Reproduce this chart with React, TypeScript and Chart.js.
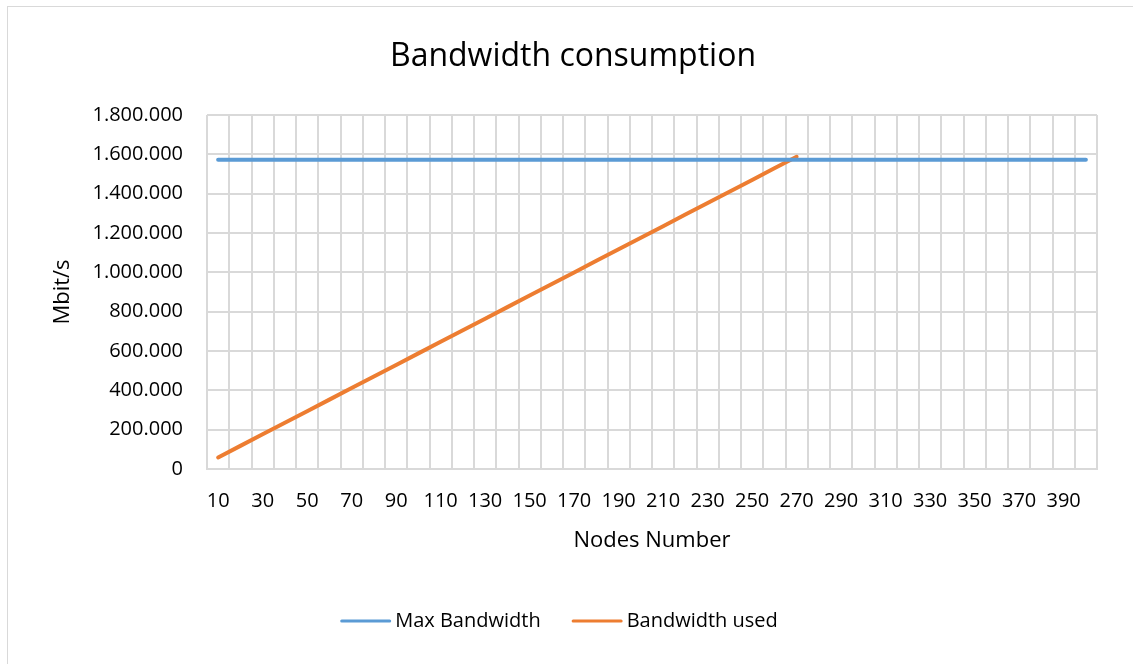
import React, { useEffect, useRef } from 'react';
import { Chart, registerables } from 'chart.js';

Chart.register(...registerables);

// ---- Data ----
const nodeCategories = [
  '10', '20', '30', '40', '50', '60', '70', '80', '90', '100',
  '110', '120', '130', '140', '150', '160', '170', '180', '190', '200',
  '210', '220', '230', '240', '250', '260', '270', '280', '290', '300',
  '310', '320', '330', '340', '350', '360', '370', '380', '390', '400',
];

const maxBandwidth = [
  1572000, 1572000, 1572000, 1572000, 1572000, 1572000, 1572000, 1572000, 1572000, 1572000,
  1572000, 1572000, 1572000, 1572000, 1572000, 1572000, 1572000, 1572000, 1572000, 1572000,
  1572000, 1572000, 1572000, 1572000, 1572000, 1572000, 1572000, 1572000, 1572000, 1572000,
  1572000, 1572000, 1572000, 1572000, 1572000, 1572000, 1572000, 1572000, 1572000, 1572000,
];

const bandwidthUsed = [
  58800, 117600, 176400, 235200, 294000, 352800, 411600, 470400, 529200, 588000,
  646800, 705600, 764400, 823200, 882000, 940800, 999600, 1058400, 1117200, 1176000,
  1234800, 1293600, 1352400, 1411200, 1470000, 1528800, 1587600, null, null, null,
  null, null, null, null, null, null, null, null, null, null,
];

const seriesLabels = ['Max Bandwidth', 'Bandwidth used'];
const seriesColors = ['#5B9BD5', '#ED7D31'];

const yMin = 0;
const yMax = 1800000;
const yStep = 200000;

const chartTitle = 'Bandwidth consumption';
const xTitle = 'Nodes Number';
const yTitle = 'Mbit/s';

const FONT = '"Open Sans", "Noto Sans", sans-serif';
const GRID = '#D9D9D9';

const formatThousands = (v: number) =>
  String(Math.round(v)).replace(/\B(?=(\d{3})+(?!\d))/g, '.');

const excelLegend = {
  id: 'excelLegend',
  afterDraw(chart: any) {
    const ctx = chart.ctx as CanvasRenderingContext2D;
    ctx.save();
    ctx.font = `20px ${FONT}`;
    const lineW = 51;
    const gap = 4;
    const itemGap = 31;
    const items = chart.data.datasets.map((d: any) => ({
      label: d.label,
      color: d.borderColor,
      w: ctx.measureText(d.label).width,
    }));
    const total = items.reduce(
      (s: number, it: any, i: number) => s + lineW + gap + it.w + (i ? itemGap : 0),
      0,
    );
    let x = 559 - total / 2;
    const y = 621;
    items.forEach((it: any, i: number) => {
      if (i) x += itemGap;
      ctx.strokeStyle = it.color;
      ctx.lineWidth = 3;
      ctx.lineCap = 'round';
      ctx.beginPath();
      ctx.moveTo(x + 1.5, y);
      ctx.lineTo(x + lineW - 1.5, y);
      ctx.stroke();
      x += lineW + gap;
      ctx.fillStyle = '#000';
      ctx.textBaseline = 'middle';
      ctx.textAlign = 'left';
      ctx.fillText(it.label, x, y);
      x += it.w;
    });
    ctx.restore();
  },
};

export default function App() {
  const canvasRef = useRef<HTMLCanvasElement | null>(null);

  useEffect(() => {
    if (!canvasRef.current) return;
    Chart.defaults.font.family = FONT;
    Chart.defaults.color = '#000';

    const chart = new Chart(canvasRef.current, {
      type: 'line',
      data: {
        labels: nodeCategories,
        datasets: [
          {
            label: seriesLabels[0],
            data: maxBandwidth,
            borderColor: seriesColors[0],
            backgroundColor: seriesColors[0],
            borderWidth: 4,
            borderCapStyle: 'round',
            borderJoinStyle: 'round',
            pointRadius: 0,
            pointHoverRadius: 0,
            tension: 0,
            fill: false,
          },
          {
            label: seriesLabels[1],
            data: bandwidthUsed,
            borderColor: seriesColors[1],
            backgroundColor: seriesColors[1],
            borderWidth: 4,
            borderCapStyle: 'round',
            borderJoinStyle: 'round',
            pointRadius: 0,
            pointHoverRadius: 0,
            tension: 0,
            fill: false,
            spanGaps: false,
          },
        ],
      },
      options: {
        responsive: false,
        animation: false,
        devicePixelRatio: 1,
        layout: { padding: { left: 49, right: 36, top: 0, bottom: 0 } },
        plugins: {
          legend: { display: false },
          tooltip: { enabled: false },
          title: {
            display: true,
            text: chartTitle,
            color: '#000',
            font: { family: FONT, size: 32, weight: 'normal', lineHeight: 1.2 },
            padding: { top: 37.8, bottom: 38.8 },
          },
        },
        scales: {
          x: {
            type: 'category',
            offset: true,
            afterFit: (scale: any) => {
              scale.height = 195;
            },
            grid: {
              offset: true,
              color: GRID,
              lineWidth: 2,
              drawTicks: false,
            },
            border: { display: true, color: GRID, width: 2 },
            ticks: {
              autoSkip: false,
              maxRotation: 0,
              minRotation: 0,
              padding: 20,
              color: '#000',
              font: { family: FONT, size: 20, lineHeight: 1.2 },
              callback: (_v: any, idx: number) => (idx % 2 === 0 ? nodeCategories[idx] : ''),
            },
            title: {
              display: true,
              text: xTitle,
              color: '#000',
              font: { family: FONT, size: 22, lineHeight: 1.2 },
              padding: { top: 0, bottom: 109.8 },
            },
          },
          y: {
            min: yMin,
            max: yMax,
            afterFit: (scale: any) => {
              scale.width = 158;
            },
            grid: {
              color: GRID,
              lineWidth: 2,
              drawTicks: false,
            },
            border: { display: false },
            ticks: {
              stepSize: yStep,
              padding: 24,
              color: '#000',
              font: { family: FONT, size: 20, lineHeight: 1.2 },
              callback: (v: any) => formatThousands(Number(v)),
            },
            title: {
              display: true,
              text: yTitle,
              color: '#000',
              font: { family: FONT, size: 22, lineHeight: 1.2 },
              padding: { top: 0.8, bottom: 0 },
            },
          },
        },
      },
      plugins: [excelLegend],
    } as any);

    return () => chart.destroy();
  }, []);

  return (
    <div
      style={{
        position: 'fixed',
        left: 0,
        top: 0,
        width: 1133,
        height: 664,
        overflow: 'hidden',
        background: '#fff',
      }}
    >
      <div
        style={{
          position: 'absolute',
          left: 7,
          top: 6,
          width: 2000,
          height: 2000,
          border: '1px solid #D9D9D9',
        }}
      />
      <canvas
        ref={canvasRef}
        width={1133}
        height={664}
        style={{ position: 'absolute', left: 0, top: 0, width: 1133, height: 664 }}
      />
    </div>
  );
}
